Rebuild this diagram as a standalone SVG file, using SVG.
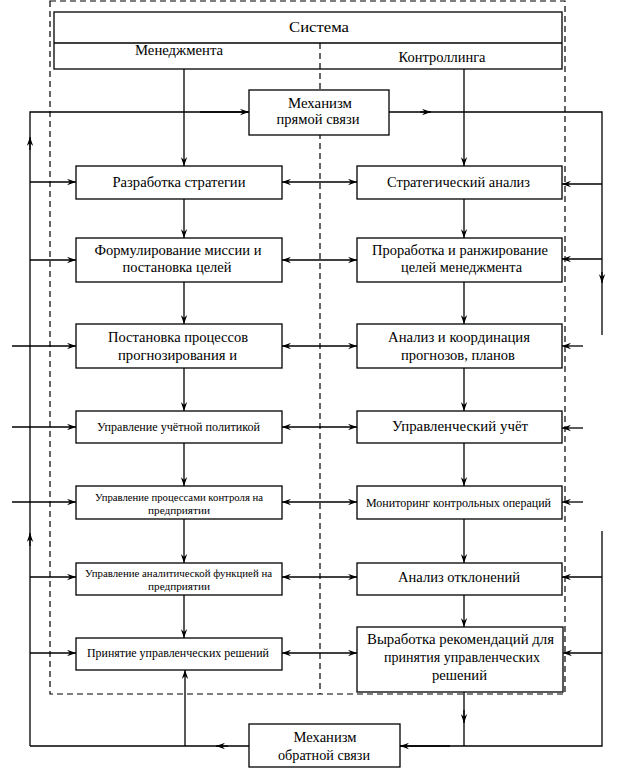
<svg xmlns="http://www.w3.org/2000/svg" width="627" height="771" viewBox="0 0 627 771">
<style>
.bx{fill:#fff;stroke:#000;stroke-width:1.3}
.ln{fill:none;stroke:#000;stroke-width:1.3}
.ds{fill:none;stroke:#000;stroke-width:1.2;stroke-dasharray:6,4}
.a{marker-end:url(#ah)}
.d{marker-start:url(#ah);marker-end:url(#ah)}
text{font-family:'Liberation Serif','Times New Roman',serif;fill:#000;text-anchor:middle}
.t{font-size:14.5px}
.s{font-size:12.5px}
.xs{font-size:11px}
</style>
<defs>
<marker id="ah" viewBox="0 0 9 7" refX="9" refY="3.5" markerWidth="9" markerHeight="7" markerUnits="userSpaceOnUse" orient="auto-start-reverse">
<path d="M0,0.3 L9,3.5 L0,6.7 L3,3.5 z" fill="#000"/>
</marker>
</defs>
<rect class="ds" x="50" y="1" width="515" height="693"/>
<g id="system">
<rect class="bx" x="54" y="12" width="508" height="57"/>
<line class="ln" x1="54" y1="43" x2="562" y2="43"/>
<text class="t" x="319" y="32" textLength="60" lengthAdjust="spacingAndGlyphs">Система</text>
<text class="t" x="179" y="55" textLength="88" lengthAdjust="spacingAndGlyphs">Менеджмента</text>
<text class="t" x="442" y="62" textLength="87" lengthAdjust="spacingAndGlyphs">Контроллинга</text>
</g>
<line class="ds" x1="320" y1="43" x2="320" y2="694"/>
<g id="connectors">
<line class="ln a" x1="184" y1="69" x2="184" y2="166"/>
<line class="ln a" x1="464" y1="69" x2="464" y2="166"/>
<line class="ln a" x1="184" y1="199" x2="184" y2="238"/>
<line class="ln a" x1="184" y1="282" x2="184" y2="324"/>
<line class="ln a" x1="184" y1="368" x2="184" y2="411"/>
<line class="ln a" x1="184" y1="443" x2="184" y2="486"/>
<line class="ln a" x1="184" y1="519" x2="184" y2="563"/>
<line class="ln a" x1="184" y1="595" x2="184" y2="638"/>
<line class="ln a" x1="464" y1="199" x2="464" y2="238"/>
<line class="ln a" x1="464" y1="282" x2="464" y2="324"/>
<line class="ln a" x1="464" y1="368" x2="464" y2="411"/>
<line class="ln a" x1="464" y1="443" x2="464" y2="486"/>
<line class="ln a" x1="464" y1="519" x2="464" y2="563"/>
<line class="ln a" x1="464" y1="595" x2="464" y2="627"/>
<line class="ln d" x1="282" y1="182" x2="357" y2="182"/>
<line class="ln d" x1="282" y1="260" x2="357" y2="260"/>
<line class="ln d" x1="282" y1="346" x2="357" y2="346"/>
<line class="ln d" x1="282" y1="427" x2="357" y2="427"/>
<line class="ln d" x1="282" y1="502" x2="357" y2="502"/>
<line class="ln d" x1="282" y1="577" x2="357" y2="577"/>
<line class="ln d" x1="282" y1="653" x2="357" y2="653"/>
<line class="ln a" x1="30" y1="182" x2="76" y2="182"/>
<line class="ln a" x1="30" y1="260" x2="76" y2="260"/>
<line class="ln a" x1="12" y1="346" x2="76" y2="346"/>
<line class="ln a" x1="12" y1="427" x2="76" y2="427"/>
<line class="ln a" x1="12" y1="502" x2="76" y2="502"/>
<line class="ln a" x1="30" y1="577" x2="76" y2="577"/>
<line class="ln a" x1="30" y1="653" x2="76" y2="653"/>
<line class="ln a" x1="602" y1="184" x2="562" y2="184"/>
<line class="ln a" x1="602" y1="259" x2="562" y2="259"/>
<line class="ln a" x1="583" y1="346" x2="562" y2="346"/>
<line class="ln a" x1="583" y1="428" x2="562" y2="428"/>
<line class="ln a" x1="583" y1="502" x2="562" y2="502"/>
<line class="ln a" x1="602" y1="577" x2="562" y2="577"/>
<line class="ln a" x1="602" y1="653" x2="563" y2="653"/>
<polyline class="ln" points="30,746 30,112 249,112"/>
<line class="ln a" x1="200" y1="112" x2="249" y2="112"/>
<polyline class="ln" points="389,112 602,112 602,335"/>
<line class="ln a" x1="420" y1="112" x2="431" y2="112"/>
<line class="ln a" x1="602" y1="272" x2="602" y2="283"/>
<line class="ln a" x1="30" y1="150" x2="30" y2="137"/>
<line class="ln a" x1="30" y1="546" x2="30" y2="533"/>
<polyline class="ln" points="602,531 602,746 400,746"/>
<line class="ln a" x1="450" y1="746" x2="400" y2="746"/>
<line class="ln" x1="249" y1="746" x2="30" y2="746"/>
<line class="ln a" x1="228" y1="746" x2="216" y2="746"/>
<line class="ln a" x1="185" y1="746" x2="185" y2="670"/>
<line class="ln" x1="464" y1="692" x2="464" y2="746"/>
<line class="ln a" x1="464" y1="710" x2="464" y2="723"/>
</g>
<g id="forward">
<rect class="bx" x="249" y="90" width="140" height="45"/>
<text class="t" x="320" y="108" textLength="64" lengthAdjust="spacingAndGlyphs">Механизм</text>
<text class="t" x="318" y="124" textLength="83" lengthAdjust="spacingAndGlyphs">прямой связи</text>
</g>
<g id="m1">
<rect class="bx" x="76" y="166" width="206" height="33"/>
<text class="t" x="179" y="187" textLength="133" lengthAdjust="spacingAndGlyphs">Разработка стратегии</text>
</g>
<g id="m2">
<rect class="bx" x="76" y="238" width="206" height="44"/>
<text class="t" x="178" y="255" textLength="167" lengthAdjust="spacingAndGlyphs">Формулирование миссии и</text>
<text class="t" x="177" y="272" textLength="109" lengthAdjust="spacingAndGlyphs">постановка целей</text>
</g>
<g id="m3">
<rect class="bx" x="76" y="324" width="206" height="44"/>
<text class="t" x="178" y="342" textLength="140" lengthAdjust="spacingAndGlyphs">Постановка процессов</text>
<text class="t" x="177.5" y="360" textLength="119" lengthAdjust="spacingAndGlyphs">прогнозирования и</text>
</g>
<g id="m4">
<rect class="bx" x="76" y="411" width="206" height="32"/>
<text class="s" x="178.5" y="431" textLength="163" lengthAdjust="spacingAndGlyphs">Управление учётной политикой</text>
</g>
<g id="m5">
<rect class="bx" x="76" y="486" width="206" height="33"/>
<text class="xs" x="179" y="501" textLength="168" lengthAdjust="spacingAndGlyphs">Управление процессами контроля на</text>
<text class="xs" x="179" y="514" textLength="62" lengthAdjust="spacingAndGlyphs">предприятии</text>
</g>
<g id="m6">
<rect class="bx" x="76" y="563" width="206" height="32"/>
<text class="xs" x="178.5" y="577" textLength="187" lengthAdjust="spacingAndGlyphs">Управление аналитической функцией на</text>
<text class="xs" x="179" y="590" textLength="62" lengthAdjust="spacingAndGlyphs">предприятии</text>
</g>
<g id="m7">
<rect class="bx" x="76" y="638" width="206" height="32"/>
<text class="s" x="178" y="657" textLength="182" lengthAdjust="spacingAndGlyphs">Принятие управленческих решений</text>
</g>
<g id="c1">
<rect class="bx" x="357" y="166" width="205" height="33"/>
<text class="t" x="458.5" y="187" textLength="143" lengthAdjust="spacingAndGlyphs">Стратегический анализ</text>
</g>
<g id="c2">
<rect class="bx" x="357" y="238" width="205" height="44"/>
<text class="t" x="460" y="255" textLength="176" lengthAdjust="spacingAndGlyphs">Проработка и ранжирование</text>
<text class="t" x="461.5" y="272" textLength="121" lengthAdjust="spacingAndGlyphs">целей менеджмента</text>
</g>
<g id="c3">
<rect class="bx" x="357" y="324" width="205" height="44"/>
<text class="t" x="459" y="342" textLength="142" lengthAdjust="spacingAndGlyphs">Анализ и координация</text>
<text class="t" x="458" y="360" textLength="114" lengthAdjust="spacingAndGlyphs">прогнозов, планов</text>
</g>
<g id="c4">
<rect class="bx" x="357" y="411" width="205" height="32"/>
<text class="t" x="460" y="431" textLength="136" lengthAdjust="spacingAndGlyphs">Управленческий учёт</text>
</g>
<g id="c5">
<rect class="bx" x="357" y="486" width="205" height="33"/>
<text class="s" x="458.5" y="507" textLength="185" lengthAdjust="spacingAndGlyphs">Мониторинг контрольных операций</text>
</g>
<g id="c6">
<rect class="bx" x="357" y="563" width="205" height="32"/>
<text class="t" x="459" y="582" textLength="122" lengthAdjust="spacingAndGlyphs">Анализ отклонений</text>
</g>
<g id="c7">
<rect class="bx" x="357" y="627" width="206" height="65"/>
<text class="t" x="460.5" y="644" textLength="187" lengthAdjust="spacingAndGlyphs">Выработка рекомендаций для</text>
<text class="t" x="462" y="662" textLength="156" lengthAdjust="spacingAndGlyphs">принятия управленческих</text>
<text class="t" x="459.5" y="680" textLength="55" lengthAdjust="spacingAndGlyphs">решений</text>
</g>
<g id="feedback">
<rect class="bx" x="249" y="724" width="151" height="43"/>
<text class="t" x="325" y="742" textLength="63" lengthAdjust="spacingAndGlyphs">Механизм</text>
<text class="t" x="324" y="760" textLength="92" lengthAdjust="spacingAndGlyphs">обратной связи</text>
</g>
</svg>
